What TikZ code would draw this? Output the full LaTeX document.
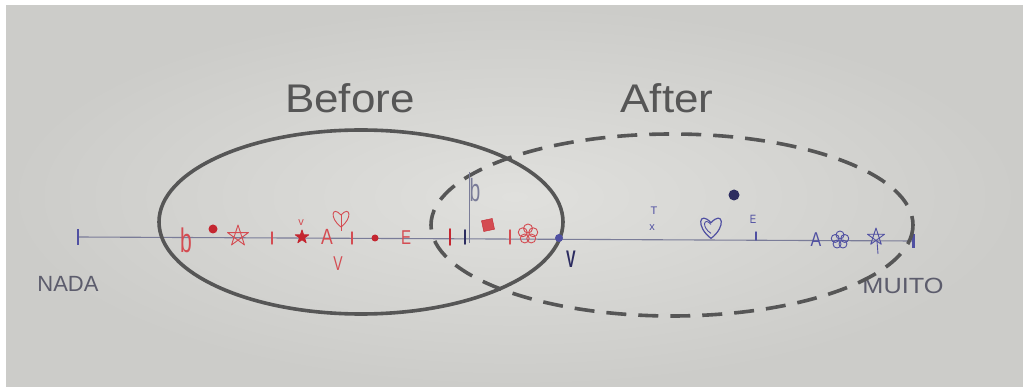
\documentclass[tikz,border=0pt]{standalone}
\usepackage{fontspec}
\setmainfont{Liberation Sans}
\usetikzlibrary{positioning}
\definecolor{paperbg}{RGB}{224,224,221}
\definecolor{paperedge}{RGB}{204,204,201}
\definecolor{inkgrey}{RGB}{86,86,86}
\definecolor{inkred}{RGB}{212,76,82}
\definecolor{inkdeep}{RGB}{196,38,48}
\definecolor{inkblue}{RGB}{80,80,162}
\definecolor{inknavy}{RGB}{44,44,96}
\definecolor{inkline}{RGB}{122,124,152}
\definecolor{inkpencil}{RGB}{92,92,108}

\begin{document}
\begin{tikzpicture}[
  x=1pt,y=-1pt,
  title/.style={font=\fontsize{40}{40}\selectfont,text=inkgrey,xscale=1.1},
  hand/.style={inner sep=0pt,font=\fontsize{#1}{#1}\selectfont},
  hand/.default=16,
  ringline/.style={draw=inkgrey,line width=3.6pt},
  ringdash/.style={ringline,dash pattern=on 20pt off 12pt},
  tickmark/.style={line width=1.4pt,line cap=round},
  inkdot/.style={circle,inner sep=0pt,minimum size=#1},
  sketch/.style={line width=0.9pt,line join=round}
]
\useasboundingbox (0,0) rectangle (1023,387);
% paper
\fill[white] (0,0) rectangle (1023,387);
\shade[inner color=paperbg,outer color=paperedge] (6,6) rectangle (1023,387);

% the line from nothing to a lot
\coordinate (nada) at (78,237);
\coordinate (muito) at (913,241);
\draw[draw=inkline,line width=1.1pt] (nada) -- (muito);
\draw[inkblue,line width=2.6pt] (nada) ++(0,-8) -- ++(0,16);
\draw[inkblue,line width=3pt] (muito) ++(0,-7) -- ++(0,14);
\node[hand=22,text=inkpencil] (nadalbl) at (68,284) {NADA};
\node[hand=22,text=inkpencil,xscale=1.15] (muitolbl) at (903,286) {MUITO};

% the two rings
\coordinate (beforec) at (361,222);
\coordinate (afterc) at (672,225);
\draw[ringline] (beforec) ellipse [x radius=202,y radius=92];
\draw[ringdash] (afterc) ellipse [x radius=241,y radius=91];
\node[title] (beforelbl) at (350,98) {Before};
\node[title] (afterlbl) at (667,98) {After};

% red marks (before)
\node[hand=34,text=inkred,xscale=0.62] (redb) at (186,240) {b};
\node[inkdot=9pt,fill=inkdeep] (reddot1) at (213,229) {};
\coordinate (redstar1) at (238,236);
\draw[sketch,inkred,shift={(redstar1)}] (-90:11) -- (54:11) -- (198:11) -- (-18:11) -- (126:11) -- cycle;
\coordinate (redtick1) at (272,238);
\draw[tickmark,inkred] (redtick1) ++(0,-6) -- ++(0,12);
\node[hand=11,text=inkred] (redcaron) at (301,223) {v};
\coordinate (redstar2) at (302,237);
\filldraw[sketch,inkdeep,shift={(redstar2)}] (-90:7) -- (54:7) -- (198:7) -- (-18:7) -- (126:7) -- cycle;
\node[hand=22,text=inkred,xscale=0.8] (reda) at (327,237) {A};
\coordinate (redheart) at (341,219);
\draw[sketch,inkred,shift={(redheart)}] (0,8) .. controls (-12,-1) and (-9,-14) .. (0,-4) .. controls (9,-14) and (12,-1) .. (0,8);
\draw[sketch,inkred] (redheart) ++(0,-4) -- ++(0,16);
\coordinate (redtick2) at (352,238);
\draw[tickmark,inkred] (redtick2) ++(0,-6) -- ++(0,12);
\node[hand=20,text=inkred,xscale=0.7] (redv) at (338,264) {V};
\node[inkdot=7pt,fill=inkdeep] (reddot2) at (375,238) {};
\node[hand=20,text=inkred,xscale=0.75] (rede) at (406,238) {E};
\coordinate (redtick3) at (450,237);
\draw[tickmark,inkdeep,line width=1.8pt] (redtick3) ++(0,-8) -- ++(0,16);
\coordinate (darktick) at (465,237);
\draw[tickmark,inknavy,line width=1.8pt] (darktick) ++(0,-7) -- ++(0,14);
\coordinate (stemtop) at (469,172);
\coordinate (stembot) at (469,243);
\draw[inkline,line width=0.8pt] (stemtop) -- (stembot);
\node[hand=32,text=inkline,xscale=0.6] (blueb) at (475,190) {b};
\node[draw=inkdeep,fill=inkred,minimum size=11pt,inner sep=0pt,rotate=12] (redsquare) at (488,225) {};
\coordinate (redtick4) at (510,237);
\draw[tickmark,inkred] (redtick4) ++(0,-7) -- ++(0,14);
\coordinate (redflower) at (528,234);
\foreach \a in {-90,-18,54,126,198}
  \draw[sketch,inkred,shift={(redflower)}] (\a:5.5) circle (4.5);
\node[inkdot=8pt,fill=inkblue] (bluedot) at (559,238) {};
\node[inner sep=0pt,font=\fontsize{24}{24}\selectfont\bfseries,text=inknavy,xscale=0.6] (darkv) at (571,259) {V};

% blue marks (after)
\node[hand=11,text=inkblue] (bluet) at (654,211) {T};
\node[hand=11,text=inkblue] (bluex) at (652,228) {x};
\coordinate (blueheart) at (711,228);
\draw[sketch,inkblue,line width=1.2pt,shift={(blueheart)},scale=1.3] (0,8) .. controls (-12,-1) and (-9,-14) .. (0,-4) .. controls (9,-14) and (12,-1) .. (0,8);
\draw[sketch,inkblue,shift={(blueheart)},scale=0.9] (0,6) .. controls (-11,-1) and (-8,-13) .. (0,-4);
\node[inkdot=11pt,fill=inknavy] (blueblob) at (734,195) {};
\node[hand=12,text=inkblue,xscale=0.8] (bluee) at (753,219) {E};
\coordinate (bluetick) at (756,236);
\draw[tickmark,inkblue] (bluetick) ++(0,-4) -- ++(0,8);
\node[hand=20,text=inkblue,xscale=0.8] (bluea) at (816,240) {A};
\coordinate (blueflower) at (840,240);
\foreach \a in {-90,-18,54,126,198}
  \draw[sketch,inkblue,shift={(blueflower)}] (\a:5) circle (4);
\coordinate (bluestar) at (876,237);
\draw[sketch,inkblue,shift={(bluestar)}] (-90:9) -- (54:9) -- (198:9) -- (-18:9) -- (126:9) -- cycle;
\draw[sketch,inkblue] (bluestar) ++(1,4) -- ++(1,13);
\end{tikzpicture}
\end{document}
